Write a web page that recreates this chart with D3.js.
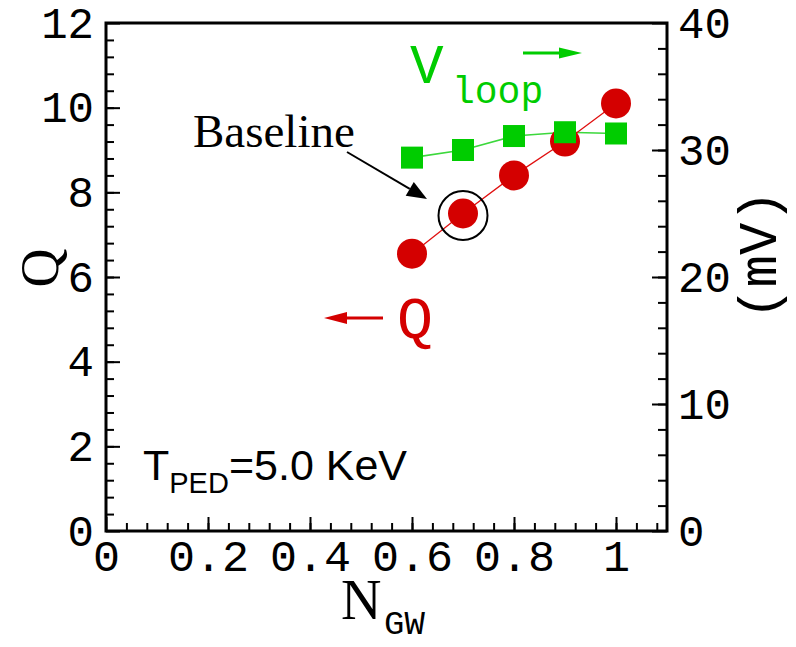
<!DOCTYPE html>
<html>
<head>
<meta charset="utf-8">
<script src="https://cdn.jsdelivr.net/npm/d3@7"></script>
<style>
  html, body { margin: 0; padding: 0; background: #fff; }
  svg { display: block; }
  .tick text { font-family: "Liberation Mono", monospace; fill: #000; }
</style>
</head>
<body>
<svg id="chart" width="796" height="647"></svg>
<script>
// Greenwald fraction scan at fixed pedestal temperature
const nGW = [0.6, 0.7, 0.8, 0.9, 1.0];
const qValues = [6.55, 7.5, 8.4, 9.2, 10.1];
const vloopValues = [29.4, 30.0, 31.1, 31.4, 31.3];
const baselineIndex = 1;

const xTicks = [0, 0.2, 0.4, 0.6, 0.8, 1];
const xTickLabels = ["0", "0.2", "0.4", "0.6", "0.8", "1"];
const qTicks = [0, 2, 4, 6, 8, 10, 12];
const vTicks = [0, 10, 20, 30, 40];

const svg = d3.select("#chart");
const plotLeft = 106, plotRight = 667, plotTop = 23, plotBottom = 531;

const x = d3.scaleLinear().domain([0, 1.1]).range([plotLeft, plotRight]);
const yQ = d3.scaleLinear().domain([0, 12]).range([plotBottom, plotTop]);
const yV = d3.scaleLinear().domain([0, 40]).range([plotBottom, plotTop]);

const red = "#d40000";
const green = "#00cc00";
const monoFont = "Liberation Mono, monospace";
const serifFont = "Liberation Serif, Times New Roman, serif";

// minor ticks
const minorX = d3.range(0, 1.1001, 0.04).filter(v => v > 0.001 && v < 1.099);
const minorQ = d3.range(0, 12.001, 0.4).filter(v => v > 0.001 && v < 11.999);
const minorV = d3.range(0, 40.001, 2).filter(v => v > 0.001 && v < 39.999);

function styleAxis(g) {
  g.select(".domain").remove();
  g.selectAll(".tick line").attr("stroke", "#000").attr("stroke-width", 2);
}

svg.append("g").attr("transform", `translate(0,${plotBottom})`)
  .call(d3.axisBottom(x).tickValues(minorX).tickSize(-8).tickFormat(""))
  .call(styleAxis);
svg.append("g").attr("transform", `translate(${plotLeft},0)`)
  .call(d3.axisLeft(yQ).tickValues(minorQ).tickSize(-8).tickFormat(""))
  .call(styleAxis);
svg.append("g").attr("transform", `translate(${plotRight},0)`)
  .call(d3.axisRight(yV).tickValues(minorV).tickSize(-9).tickFormat(""))
  .call(styleAxis);

// major ticks with labels
const xAxisG = svg.append("g").attr("transform", `translate(0,${plotBottom})`)
  .call(d3.axisBottom(x).tickValues(xTicks).tickSize(-14).tickPadding(8)
    .tickFormat((d, i) => xTickLabels[i]))
  .call(styleAxis);
xAxisG.selectAll("text").attr("font-size", 45);

const yAxisG = svg.append("g").attr("transform", `translate(${plotLeft},0)`)
  .call(d3.axisLeft(yQ).tickValues(qTicks).tickSize(-14).tickPadding(12)
    .tickFormat(d3.format("d")))
  .call(styleAxis);
yAxisG.selectAll("text").attr("font-size", 44);

const vAxisG = svg.append("g").attr("transform", `translate(${plotRight},0)`)
  .call(d3.axisRight(yV).tickValues(vTicks).tickSize(-15).tickPadding(11)
    .tickFormat(d3.format("d")))
  .call(styleAxis);
vAxisG.selectAll("text").attr("font-size", 44);

// frame
svg.append("rect")
  .attr("x", plotLeft).attr("y", plotTop)
  .attr("width", plotRight - plotLeft).attr("height", plotBottom - plotTop)
  .attr("fill", "none").attr("stroke", "#000").attr("stroke-width", 3);

// V_loop series line
svg.append("path")
  .datum(nGW.map((n, i) => [n, vloopValues[i]]))
  .attr("fill", "none").attr("stroke", "#3cd83c").attr("stroke-width", 1.6)
  .attr("d", d3.line().x(d => x(d[0])).y(d => yV(d[1])));

// Q series line and markers
svg.append("path")
  .datum(nGW.map((n, i) => [n, qValues[i]]))
  .attr("fill", "none").attr("stroke", "#e01010").attr("stroke-width", 1.3)
  .attr("d", d3.line().x(d => x(d[0])).y(d => yQ(d[1])));

svg.selectAll("circle.q")
  .data(nGW.map((n, i) => [n, qValues[i]]))
  .join("circle").attr("class", "q")
  .attr("cx", d => x(d[0])).attr("cy", d => yQ(d[1]))
  .attr("r", 15).attr("fill", red);

// V_loop markers
const sq = 22;
svg.selectAll("rect.v")
  .data(nGW.map((n, i) => [n, vloopValues[i]]))
  .join("rect").attr("class", "v")
  .attr("x", d => x(d[0]) - sq / 2).attr("y", d => yV(d[1]) - sq / 2)
  .attr("width", sq).attr("height", sq).attr("fill", green);

// baseline highlight ring
const bx = x(nGW[baselineIndex]), by = yQ(qValues[baselineIndex]);
svg.append("circle")
  .attr("cx", bx).attr("cy", by + 2).attr("r", 24.5)
  .attr("fill", "none").attr("stroke", "#000").attr("stroke-width", 2);

// arrow helper: shaft plus filled head
function arrow(x1, y1, x2, y2, color, width, headLen, headHalf) {
  const ang = Math.atan2(y2 - y1, x2 - x1);
  const bxh = x2 - headLen * Math.cos(ang), byh = y2 - headLen * Math.sin(ang);
  svg.append("line")
    .attr("x1", x1).attr("y1", y1).attr("x2", bxh).attr("y2", byh)
    .attr("stroke", color).attr("stroke-width", width);
  const px = -Math.sin(ang) * headHalf, py = Math.cos(ang) * headHalf;
  svg.append("path")
    .attr("d", `M${x2},${y2}L${bxh + px},${byh + py}L${bxh - px},${byh - py}Z`)
    .attr("fill", color);
}

// Baseline annotation
svg.append("text")
  .attr("x", 193).attr("y", 147)
  .attr("font-family", serifFont).attr("font-size", 47)
  .text("Baseline");
arrow(347, 152, 427, 199, "#000", 2, 20, 8);

// series labels with direction arrows
svg.append("text")
  .attr("x", 410).attr("y", 83)
  .attr("font-family", monoFont).attr("font-size", 56).attr("fill", green)
  .text("V");
svg.append("text")
  .attr("x", 452).attr("y", 103)
  .attr("font-family", monoFont).attr("font-size", 38).attr("fill", green)
  .text("loop");
arrow(523, 53, 582, 53, green, 3, 23, 5.5);

svg.append("text")
  .attr("x", 397).attr("y", 338)
  .attr("font-family", monoFont).attr("font-size", 60).attr("fill", red)
  .text("Q");
arrow(383, 318, 324, 318, red, 3, 23, 6);

// pedestal temperature note
const tText = svg.append("text")
  .attr("x", 143).attr("y", 480)
  .attr("font-family", "Liberation Sans, Arial, sans-serif").attr("font-size", 43);
tText.append("tspan").text("T");
tText.append("tspan").attr("dy", 13).attr("font-size", 29).text("PED");
tText.append("tspan").attr("dy", -13).text("=5.0 KeV");

// axis titles
svg.append("text")
  .attr("transform", "translate(58,268) rotate(-90)")
  .attr("text-anchor", "middle")
  .attr("font-family", serifFont).attr("font-size", 54)
  .text("Q");

svg.append("text")
  .attr("transform", "translate(776,255) rotate(-90)")
  .attr("text-anchor", "middle")
  .attr("font-family", monoFont).attr("font-size", 54)
  .text("(mV)");

svg.append("text")
  .attr("x", 341).attr("y", 619)
  .attr("font-family", serifFont).attr("font-size", 56)
  .text("N");
svg.append("text")
  .attr("x", 384).attr("y", 634)
  .attr("font-family", monoFont).attr("font-size", 34)
  .text("GW");
</script>
</body>
</html>
